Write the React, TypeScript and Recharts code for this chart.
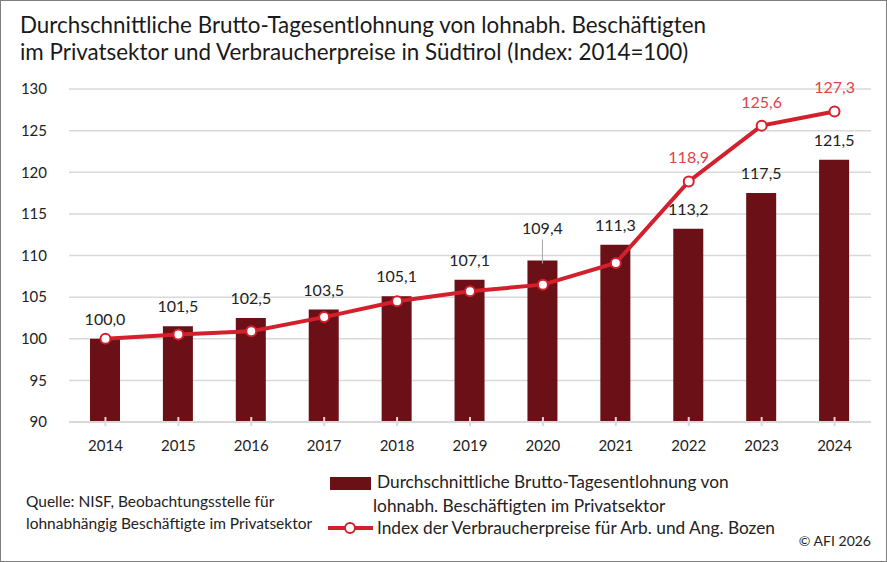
import React from 'react';
import { ComposedChart, Bar, Line, XAxis, YAxis, CartesianGrid, LabelList } from 'recharts';

const years = ['2014', '2015', '2016', '2017', '2018', '2019', '2020', '2021', '2022', '2023', '2024'];
const wageIndex = [100.0, 101.5, 102.5, 103.5, 105.1, 107.1, 109.4, 111.3, 113.2, 117.5, 121.5];
const cpiIndex = [100.0, 100.5, 100.9, 102.6, 104.5, 105.7, 106.5, 109.1, 118.9, 125.6, 127.3];
const cpiLabeledYears = ['2022', '2023', '2024'];
const yTicks = [90, 95, 100, 105, 110, 115, 120, 125, 130];

const titleLines = [
  'Durchschnittliche Brutto-Tagesentlohnung von lohnabh. Beschäftigten',
  'im Privatsektor und Verbraucherpreise in Südtirol (Index: 2014=100)',
];
const wageLegend = ['Durchschnittliche Brutto-Tagesentlohnung von', 'lohnabh. Beschäftigten im Privatsektor'];
const cpiLegend = 'Index der Verbraucherpreise für Arb. und Ang. Bozen';
const sourceLines = ['Quelle: NISF, Beobachtungsstelle für', 'lohnabhängig Beschäftigte im Privatsektor'];
const copyright = '© AFI 2026';

const data = years.map((year, i) => ({ year, wage: wageIndex[i], cpi: cpiIndex[i] }));

const FONT = 'Lato, "Noto Sans", sans-serif';
const BAR = '#6a1016';
const LINE = '#d41f2c';
const LINE_LABEL = '#e0434b';
const GRID = '#d9d9d9';
const TEXT = '#222222';

const fmt = (v: number) => v.toFixed(1).replace('.', ',');

const XTick = (props: any) => {
  const { x, y, payload } = props;
  return (
    <g>
      <line x1={x} x2={x} y1={y - 5} y2={y + 4} stroke={GRID} strokeWidth={2} />
      <text x={x} y={y + 29} textAnchor="middle" fill={TEXT} fontSize={15} fontFamily={FONT}>
        {payload.value}
      </text>
    </g>
  );
};

const BarLabel = (props: any) => {
  const { x, y, width, value, index } = props;
  const cx = x + width / 2;
  const raised = index === 6;
  const ty = raised ? y - 26 : y - 14;
  return (
    <g>
      {raised && <line x1={cx} x2={cx} y1={y - 21} y2={y + 3} stroke="#a6a6a6" strokeWidth={1} />}
      <text x={cx} y={ty} textAnchor="middle" fill={TEXT} fontSize={16} fontFamily={FONT}>
        {fmt(value)}
      </text>
    </g>
  );
};

const LineLabel = (props: any) => {
  const { x, y, value, index } = props;
  if (!cpiLabeledYears.includes(years[index])) return null;
  return (
    <text x={x} y={y - 18} textAnchor="middle" fill={LINE_LABEL} fontSize={16} fontFamily={FONT}>
      {fmt(value)}
    </text>
  );
};

export default function App() {
  return (
    <div
      style={{
        position: 'absolute',
        left: 0,
        top: 0,
        width: 887,
        height: 562,
        boxSizing: 'border-box',
        border: '1px solid #7f7f7f',
        background: '#fff',
        fontFamily: FONT,
        color: TEXT,
        overflow: 'hidden',
      }}
    >
      <div style={{ position: 'absolute', left: 0, top: 0 }}>
        <ComposedChart width={887} height={562} data={data} margin={{ top: 88, right: 17, bottom: 101, left: 20 }}>
          <CartesianGrid vertical={false} stroke={GRID} strokeWidth={1.5} />
          <XAxis
            dataKey="year"
            height={40}
            axisLine={{ stroke: GRID, strokeWidth: 2 }}
            tickLine={false}
            tickSize={0}
            tickMargin={0}
            tick={<XTick />}
            interval={0}
          />
          <YAxis
            domain={[90, 130]}
            ticks={yTicks}
            width={48}
            axisLine={false}
            tickLine={false}
            tickSize={0}
            tickMargin={22}
            tick={{ fill: TEXT, fontSize: 15, fontFamily: FONT }}
            interval={0}
          />
          <Bar dataKey="wage" fill={BAR} barSize={30} isAnimationActive={false}>
            <LabelList dataKey="wage" content={<BarLabel />} />
          </Bar>
          <Line
            dataKey="cpi"
            stroke={LINE}
            strokeWidth={4}
            dot={{ r: 5, fill: '#fff', stroke: LINE, strokeWidth: 2 }}
            isAnimationActive={false}
          >
            <LabelList dataKey="cpi" content={<LineLabel />} />
          </Line>
        </ComposedChart>
      </div>

      <div style={{ position: 'absolute', left: 19, top: 10, fontSize: 22.4, lineHeight: '27px', whiteSpace: 'nowrap', color: '#1a1a1a' }}>
        {titleLines.map((t) => (
          <div key={t}>{t}</div>
        ))}
      </div>

      <div style={{ position: 'absolute', left: 329, top: 476, width: 41, height: 13, background: BAR }} />
      <div style={{ position: 'absolute', left: 376, top: 469, fontSize: 17.3, lineHeight: '24px', whiteSpace: 'nowrap' }}>
        {wageLegend[0]}
      </div>
      <div style={{ position: 'absolute', left: 372, top: 493, fontSize: 17.3, lineHeight: '24px', whiteSpace: 'nowrap' }}>
        {wageLegend[1]}
      </div>
      <svg style={{ position: 'absolute', left: 325, top: 518 }} width={50} height={18}>
        <line x1={2} x2={47} y1={9} y2={9} stroke={LINE} strokeWidth={4} />
        <circle cx={24} cy={9} r={5} fill="#fff" stroke={LINE} strokeWidth={2} />
      </svg>
      <div style={{ position: 'absolute', left: 376, top: 515, fontSize: 17.3, lineHeight: '24px', whiteSpace: 'nowrap' }}>
        {cpiLegend}
      </div>

      <div style={{ position: 'absolute', left: 25, top: 489, fontSize: 15.5, lineHeight: '22px', whiteSpace: 'nowrap' }}>
        {sourceLines.map((t) => (
          <div key={t}>{t}</div>
        ))}
      </div>
      <div style={{ position: 'absolute', right: 15, top: 529, fontSize: 14, lineHeight: '22px', whiteSpace: 'nowrap' }}>
        {copyright}
      </div>
    </div>
  );
}
